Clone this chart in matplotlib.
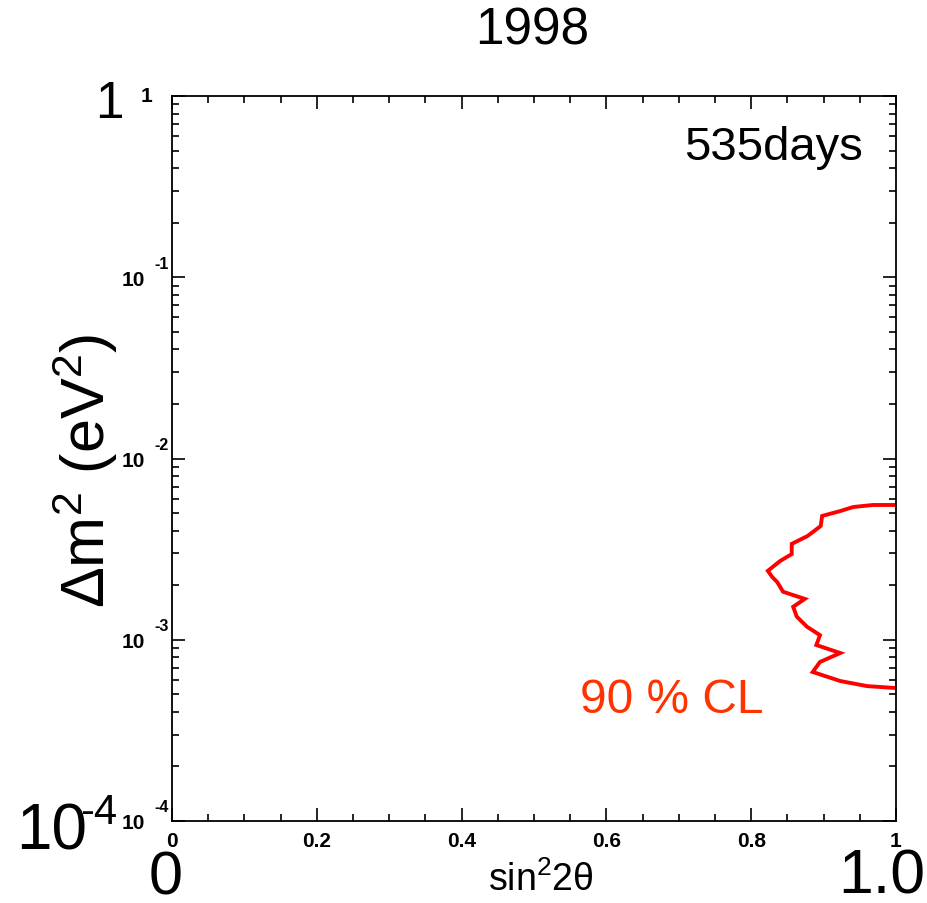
import numpy as np
import matplotlib
matplotlib.use("Agg")
import matplotlib.pyplot as plt
from matplotlib.ticker import MultipleLocator, LogLocator, NullFormatter

plt.rcParams['font.family'] = ['Liberation Sans', 'DejaVu Sans']
plt.rcParams['mathtext.fontset'] = 'custom'
plt.rcParams['mathtext.rm'] = 'Liberation Sans'
plt.rcParams['mathtext.it'] = 'Liberation Sans'
plt.rcParams['mathtext.bf'] = 'Liberation Sans:bold'

# 90% CL contour (sin^2 2theta, dm^2 in eV^2)
sin2 = [1.0, 0.968, 0.941, 0.923, 0.898, 0.896, 0.878, 0.856, 0.856, 0.840,
        0.823, 0.829, 0.836, 0.844, 0.874, 0.858, 0.863, 0.877, 0.895, 0.890,
        0.923, 0.895, 0.885, 0.923, 0.960, 0.998]
dm2 = [5.54e-3, 5.54e-3, 5.40e-3, 5.13e-3, 4.82e-3, 4.24e-3, 3.74e-3, 3.38e-3,
       2.97e-3, 2.72e-3, 2.40e-3, 2.22e-3, 2.08e-3, 1.84e-3, 1.68e-3, 1.52e-3,
       1.34e-3, 1.18e-3, 1.06e-3, 9.35e-4, 8.45e-4, 7.54e-4, 6.64e-4, 5.92e-4,
       5.55e-4, 5.42e-4]

x_ticks = [0, 0.2, 0.4, 0.6, 0.8, 1]
x_tick_labels = ["0", "0.2", "0.4", "0.6", "0.8", "1"]
y_exps = [-4, -3, -2, -1]

W, H = 928, 904
fig = plt.figure(figsize=(W / 100, H / 100), dpi=100)
ax = fig.add_axes([172 / W, 1 - 822 / H, (896 - 172) / W, (822 - 97) / H])

ax.plot(sin2, dm2, color="#ff0000", lw=2.8, solid_joinstyle="miter")

ax.set_yscale("log")
ax.set_xlim(0, 1)
ax.set_ylim(1e-4, 1)

ax.xaxis.set_major_locator(MultipleLocator(0.2))
ax.xaxis.set_minor_locator(MultipleLocator(0.05))
ax.yaxis.set_major_locator(LogLocator(base=10, numticks=10))
ax.yaxis.set_minor_locator(LogLocator(base=10, subs=np.arange(2, 10), numticks=20))
ax.yaxis.set_major_formatter(NullFormatter())
ax.yaxis.set_minor_formatter(NullFormatter())
ax.set_xticks(x_ticks)
ax.set_xticklabels(x_tick_labels, fontsize=15, fontweight="bold")

ax.tick_params(which="both", direction="in", top=True, right=True, width=1.2)
ax.tick_params(which="major", length=9.5, pad=7)
ax.tick_params(which="minor", length=5)
for s in ax.spines.values():
    s.set_linewidth(1.3)

# y tick labels drawn as 10 plus a raised exponent
for e in y_exps:
    ax.annotate("10", xy=(0, 10.0 ** e), xycoords=("axes fraction", "data"),
                xytext=(-27, -2), textcoords="offset pixels",
                ha="right", va="center", fontsize=15, fontweight="bold")
    ax.annotate(str(e), xy=(0, 10.0 ** e), xycoords=("axes fraction", "data"),
                xytext=(-18, 14), textcoords="offset pixels",
                ha="left", va="center", fontsize=11.5, fontweight="bold")
ax.annotate("1", xy=(0, 1), xycoords=("axes fraction", "data"),
            xytext=(-20, 0), textcoords="offset pixels",
            ha="right", va="center", fontsize=15, fontweight="bold")

# texts
fig.text(532 / W, 1 - 31 / H, "1998", ha="center", va="center", fontsize=37)
ax.text(0.955, 0.93, "535days", transform=ax.transAxes,
        ha="right", va="center", fontsize=34)
ax.text(0.564, 0.167, "90 % CL", transform=ax.transAxes,
        ha="left", va="center", fontsize=34.5, color="#ff3300")

fig.text(85 / W, 1 - 471 / H, r"$\Delta$m$^{2}$ (eV$^{2}$)", rotation=90,
         ha="center", va="center", fontsize=44)
fig.text(541 / W, 1 - 880 / H, r"sin$^{2}$2$\theta$", ha="center", va="center",
         fontsize=27)

# big corner labels
fig.text(109 / W, 1 - 105 / H, "1", ha="center", va="center", fontsize=37)
fig.text(16 / W, 1 - 850 / H, "10", ha="left", va="baseline", fontsize=46)
fig.text(80 / W, 1 - 824 / H, "-4", ha="left", va="baseline", fontsize=30)
fig.text(166 / W, 1 - 895 / H, "0", ha="center", va="baseline", fontsize=44)
fig.text(882 / W, 1 - 894 / H, "1.0", ha="center", va="baseline", fontsize=45)

fig.savefig("out.png", dpi=100)
